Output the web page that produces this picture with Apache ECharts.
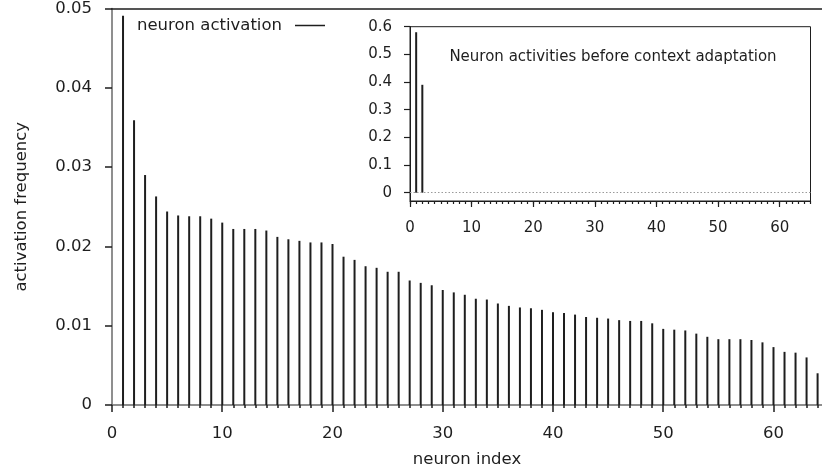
<!DOCTYPE html>
<html>
<head>
<meta charset="utf-8">
<script src="https://cdn.jsdelivr.net/npm/echarts@6/dist/echarts.min.js"></script>
<style>
  html, body { margin: 0; padding: 0; background: #fff; }
  #chart { width: 822px; height: 475px; }
</style>
</head>
<body>
<div id="chart"></div>
<script>
// Neuron index (1..64) and how often each neuron was the active one.
const neuronIndex = [
  1, 2, 3, 4, 5, 6, 7, 8, 9, 10, 11, 12, 13, 14, 15, 16,
  17, 18, 19, 20, 21, 22, 23, 24, 25, 26, 27, 28, 29, 30, 31, 32,
  33, 34, 35, 36, 37, 38, 39, 40, 41, 42, 43, 44, 45, 46, 47, 48,
  49, 50, 51, 52, 53, 54, 55, 56, 57, 58, 59, 60, 61, 62, 63, 64
];
const activationFrequency = [
  0.0491, 0.0359, 0.0290, 0.0263, 0.0244, 0.0239, 0.0238, 0.0238,
  0.0235, 0.0230, 0.0222, 0.0222, 0.0222, 0.0220, 0.0212, 0.0209,
  0.0207, 0.0205, 0.0205, 0.0203, 0.0187, 0.0183, 0.0175, 0.0173,
  0.0168, 0.0168, 0.0157, 0.0154, 0.0151, 0.0145, 0.0142, 0.0139,
  0.0134, 0.0133, 0.0128, 0.0125, 0.0123, 0.0122, 0.0120, 0.0117,
  0.0116, 0.0114, 0.0111, 0.0110, 0.0109, 0.0107, 0.0106, 0.0106,
  0.0103, 0.0096, 0.0095, 0.0094, 0.0090, 0.0086, 0.0083, 0.0083,
  0.0083, 0.0082, 0.0079, 0.0073, 0.0067, 0.0066, 0.0060, 0.0040
];

// Inset: activities before context adaptation (only two neurons fire).
const beforeIndex = [1, 2];
const beforeActivity = [0.58, 0.39];

// Tick labels
const mainXTicks = [0, 10, 20, 30, 40, 50, 60];
const insetXTicks = [0, 10, 20, 30, 40, 50, 60];
const insetYTicks = [0, 0.1, 0.2, 0.3, 0.4, 0.5, 0.6];

const minorMain = [];
for (let i = 0; i <= 64; i++) minorMain.push(i);
const minorInset = [];
for (let i = 0; i <= 65; i++) minorInset.push(i);

const FONT = 'DejaVu Sans';
const INK = '#1e1e1e';
const AXIS_GREY = '#6a6a6a';
const MAIN_FS = 16.5;
const INSET_FS = 15;

const mainData = neuronIndex.map((n, i) => [n, activationFrequency[i]]);
const insetData = beforeIndex.map((n, i) => [n, beforeActivity[i]]);

const chart = echarts.init(document.getElementById('chart'), null, { renderer: 'canvas' });

chart.setOption({
  animation: false,
  backgroundColor: '#ffffff',
  textStyle: { fontFamily: FONT, color: INK },
  grid: [
    { left: 112, right: 0, top: 8, bottom: 70, containLabel: false },
    { left: 410, right: 11.5, top: 26.7, bottom: 274, containLabel: false,
      show: true, borderColor: INK, borderWidth: 1, backgroundColor: 'rgba(0,0,0,0)' }
  ],
  legend: {
    data: ['neuron activation'],
    left: 137, top: 17, padding: 0,
    align: 'right',
    icon: 'rect', itemWidth: 30, itemHeight: 1.5,
    textStyle: { fontFamily: FONT, fontSize: MAIN_FS, color: INK, padding: [0, 8, 0, 0] },
    itemStyle: { color: INK }
  },
  xAxis: [
    { // main axis: line + unit ticks
      gridIndex: 0, type: 'value', min: 0, max: 64.4, position: 'bottom',
      axisLine: { show: true, onZero: false, lineStyle: { color: AXIS_GREY, width: 1.5 } },
      axisTick: { show: true, customValues: minorMain, length: 3, inside: false, lineStyle: { color: INK, width: 1.5 } },
      axisLabel: { show: false },
      splitLine: { show: false }
    },
    { // main axis: decade ticks, labels and name
      gridIndex: 0, type: 'value', min: 0, max: 64.4, position: 'bottom',
      axisLine: { show: false, onZero: false },
      axisTick: { show: true, customValues: mainXTicks, length: 7, lineStyle: { color: INK, width: 1.5 } },
      axisLabel: { show: true, customValues: mainXTicks, margin: 20, fontFamily: FONT, fontSize: MAIN_FS, color: INK },
      splitLine: { show: false },
      name: 'neuron index', nameLocation: 'middle', nameGap: 46,
      nameTextStyle: { fontFamily: FONT, fontSize: MAIN_FS, color: INK }
    },
    { // top border of the main plot
      gridIndex: 0, type: 'value', min: 0, max: 64.4, position: 'top',
      axisLine: { show: true, onZero: false, lineStyle: { color: INK, width: 1.5 } },
      axisTick: { show: false }, axisLabel: { show: false }, splitLine: { show: false }
    },
    { // inset: unit ticks
      gridIndex: 1, type: 'value', min: 0, max: 65, position: 'bottom',
      axisLine: { show: true, onZero: false, lineStyle: { color: INK, width: 1 } },
      axisTick: { show: true, customValues: minorInset, length: 3, lineStyle: { color: INK, width: 1.2 } },
      axisLabel: { show: false },
      splitLine: { show: false }
    },
    { // inset: decade ticks and labels
      gridIndex: 1, type: 'value', min: 0, max: 65, position: 'bottom',
      axisLine: { show: false, onZero: false },
      axisTick: { show: true, customValues: insetXTicks, length: 6, lineStyle: { color: INK, width: 1.2 } },
      axisLabel: { show: true, customValues: insetXTicks, margin: 20, fontFamily: FONT, fontSize: INSET_FS, color: INK },
      splitLine: { show: false }
    }
  ],
  yAxis: [
    {
      gridIndex: 0, type: 'value', min: 0, max: 0.05, interval: 0.01,
      axisLine: { show: true, onZero: false, lineStyle: { color: AXIS_GREY, width: 1.5 } },
      axisTick: { show: true, length: 7, lineStyle: { color: INK, width: 1.5 } },
      axisLabel: { margin: 20, fontFamily: FONT, fontSize: MAIN_FS, color: INK },
      splitLine: { show: false },
      name: 'activation frequency', nameLocation: 'middle', nameGap: 82,
      nameTextStyle: { fontFamily: FONT, fontSize: MAIN_FS, color: INK }
    },
    {
      gridIndex: 1, type: 'value', min: -0.03, max: 0.6,
      axisLine: { show: true, onZero: false, lineStyle: { color: INK, width: 1 } },
      axisTick: { show: true, customValues: insetYTicks, length: 6, lineStyle: { color: INK, width: 1.2 } },
      axisLabel: { show: true, customValues: insetYTicks, margin: 18, fontFamily: FONT, fontSize: INSET_FS, color: INK },
      splitLine: { show: false }
    }
  ],
  graphic: [
    {
      type: 'text', x: 613, y: 57,
      style: {
        text: 'Neuron activities before context adaptation',
        font: INSET_FS + 'px "DejaVu Sans"', fill: INK,
        align: 'center', verticalAlign: 'middle',
        textAlign: 'center', textVerticalAlign: 'middle'
      }
    }
  ],
  series: [
    {
      name: 'neuron activation', type: 'bar',
      xAxisIndex: 0, yAxisIndex: 0,
      data: mainData, barWidth: 2,
      itemStyle: { color: INK },
      silent: true
    },
    {
      name: 'before adaptation', type: 'bar',
      xAxisIndex: 3, yAxisIndex: 1,
      data: insetData, barWidth: 2,
      itemStyle: { color: INK },
      silent: true,
      markLine: {
        silent: true, symbol: 'none', label: { show: false },
        lineStyle: { type: [1.5, 2], color: '#9a9a9a', width: 1 },
        data: [{ yAxis: 0 }]
      }
    }
  ]
});
</script>
</body>
</html>
